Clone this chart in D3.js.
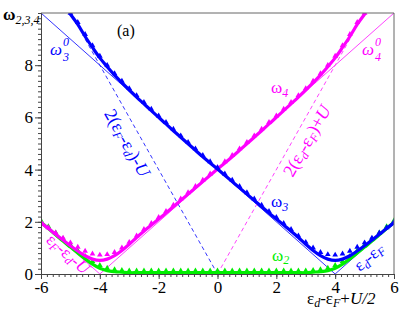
<!DOCTYPE html>
<html>
<head>
<meta charset="utf-8">
<script src="https://d3js.org/d3.v7.min.js"></script>
<style>
body { margin: 0; background: #fff; }
</style>
</head>
<body>
<svg width="409" height="316"></svg>
<script>
// x grid of the computed points
var xs = [-6, -5.75, -5.5, -5.25, -5, -4.75, -4.5, -4.25, -4, -3.75, -3.5, -3.25, -3,
          -2.75, -2.5, -2.25, -2, -1.75, -1.5, -1.25, -1, -0.75, -0.5, -0.25, 0,
          0.25, 0.5, 0.75, 1, 1.25, 1.5, 1.75, 2, 2.25, 2.5, 2.75, 3,
          3.25, 3.5, 3.75, 4, 4.25, 4.5, 4.75, 5, 5.25, 5.5, 5.75, 6];

// omega_3 (blue)
var w3Tri = [null, null, null, null, 10.0, 9.64, 9.18, 8.75, 8.35, 8.0, 7.68, 7.39, 7.11,
             6.84, 6.58, 6.32, 6.06, 5.81, 5.55, 5.3, 5.05, 4.8, 4.55, 4.31, 4.08,
             3.84, 3.6, 3.36, 3.12, 2.88, 2.64, 2.4, 2.17, 1.94, 1.71, 1.46, 1.22,
             1.0, 0.83, 0.75, 0.73, 0.77, 0.88, 1.03, 1.2, 1.38, 1.58, 1.78, 2.0];
var w3Dot = [null, null, null, null, 9.95, 9.56, 9.1, 8.68, 8.28, 7.94, 7.62, 7.33, 7.05,
             6.78, 6.52, 6.26, 6.0, 5.75, 5.49, 5.24, 4.99, 4.74, 4.49, 4.25, 4.02,
             3.78, 3.54, 3.3, 3.06, 2.82, 2.58, 2.34, 2.11, 1.88, 1.64, 1.4, 1.14,
             0.9, 0.7, 0.57, 0.52, 0.57, 0.7, 0.88, 1.08, 1.3, 1.52, 1.74, 1.97];

// omega_4 (magenta)
var w4Tri = [2.0, 1.78, 1.58, 1.38, 1.2, 1.03, 0.88, 0.77, 0.73, 0.75, 0.83, 1.0, 1.22,
             1.46, 1.71, 1.94, 2.17, 2.4, 2.64, 2.88, 3.12, 3.36, 3.6, 3.84, 4.08,
             4.31, 4.55, 4.8, 5.05, 5.3, 5.55, 5.81, 6.06, 6.32, 6.58, 6.84, 7.11,
             7.39, 7.68, 8.0, 8.35, 8.75, 9.18, 9.64, 10.0, null, null, null, null];
var w4Dot = [1.97, 1.74, 1.52, 1.3, 1.08, 0.88, 0.7, 0.57, 0.52, 0.57, 0.7, 0.9, 1.14,
             1.4, 1.64, 1.88, 2.11, 2.34, 2.58, 2.82, 3.06, 3.3, 3.54, 3.78, 4.02,
             4.25, 4.49, 4.74, 4.99, 5.24, 5.49, 5.75, 6.0, 6.26, 6.52, 6.78, 7.05,
             7.33, 7.62, 7.94, 8.28, 8.68, 9.1, 9.56, 9.95, null, null, null, null];

// omega_2 (green)
var w2Tri = [2.05, 1.82, 1.58, 1.35, 1.12, 0.9, 0.68, 0.48, 0.33, 0.23, 0.17, 0.14, 0.12,
             0.12, 0.12, 0.12, 0.12, 0.12, 0.12, 0.12, 0.12, 0.12, 0.12, 0.12, 0.12,
             0.12, 0.12, 0.12, 0.12, 0.12, 0.12, 0.12, 0.12, 0.12, 0.12, 0.12, 0.12,
             0.14, 0.17, 0.23, 0.33, 0.48, 0.68, 0.9, 1.12, 1.35, 1.58, 1.82, 2.05];
var w2Dot = [1.98, 1.74, 1.5, 1.26, 1.03, 0.8, 0.58, 0.38, 0.22, 0.13, 0.09, 0.07, 0.05,
             0.05, 0.05, 0.05, 0.05, 0.05, 0.05, 0.05, 0.05, 0.05, 0.05, 0.05, 0.05,
             0.05, 0.05, 0.05, 0.05, 0.05, 0.05, 0.05, 0.05, 0.05, 0.05, 0.05, 0.05,
             0.07, 0.09, 0.13, 0.22, 0.38, 0.58, 0.8, 1.03, 1.26, 1.5, 1.74, 1.98];

// bare levels and the dashed lines
var w3ZeroX = [-6, 4, 6], w3ZeroY = [10, 0, 2];
var w4ZeroX = [-6, -4, 6], w4ZeroY = [2, 0, 10];
var dashBlueX = [-4.5, 0], dashBlueY = [9, 0];
var dashMagX = [0, 4.5], dashMagY = [0, 9];

var xTicks = [-6, -4, -2, 0, 2, 4, 6];
var yTicks = [0, 2, 4, 6, 8];

var BLUE = "#0000ff", MAG = "#ff00ff", GREEN = "#00ee00";
var FONT = "'Liberation Serif', 'Times New Roman', 'DejaVu Serif', serif";

var svg = d3.select("svg").style("font-family", FONT);
var x = d3.scaleLinear().domain([-6, 6]).range([41, 394]);
var y = d3.scaleLinear().domain([0, 10]).range([274, 13]);

svg.append("clipPath").attr("id", "plot")
  .append("rect").attr("x", 41).attr("y", 13).attr("width", 353).attr("height", 261);

function pairs(xa, ya) {
  return xa.map(function(d, i) { return [d, ya[i]]; });
}

var line = d3.line()
  .defined(function(d) { return d[1] != null; })
  .x(function(d) { return x(d[0]); })
  .y(function(d) { return y(d[1]); });

var g = svg.append("g").attr("clip-path", "url(#plot)");

// thin solid lines
g.append("path").datum(pairs(w4ZeroX, w4ZeroY)).attr("d", line)
  .attr("fill", "none").attr("stroke", "#ff44ff").attr("stroke-width", 1);
g.append("path").datum(pairs(w3ZeroX, w3ZeroY)).attr("d", line)
  .attr("fill", "none").attr("stroke", "#3535ff").attr("stroke-width", 1);
// dashed
g.append("path").datum(pairs(dashBlueX, dashBlueY)).attr("d", line)
  .attr("fill", "none").attr("stroke", "#3535ff").attr("stroke-width", 1)
  .attr("stroke-dasharray", "4,3");
g.append("path").datum(pairs(dashMagX, dashMagY)).attr("d", line)
  .attr("fill", "none").attr("stroke", "#ff44ff").attr("stroke-width", 1)
  .attr("stroke-dasharray", "4,3");

var band = d3.line()
  .defined(function(d) { return d[1] != null; })
  .curve(d3.curveCatmullRom)
  .x(function(d) { return x(d[0]); })
  .y(function(d) { return y(d[1]); });

var tri = d3.symbol().type(d3.symbolTriangle).size(14);

function series(dots, tris, color) {
  g.append("path").datum(pairs(xs, dots)).attr("d", band)
    .attr("fill", "none").attr("stroke", color).attr("stroke-width", 3.2)
    .attr("stroke-linecap", "round");
  g.append("g").selectAll("path")
    .data(pairs(xs, tris).filter(function(d) { return d[1] != null; }))
    .enter().append("path")
      .attr("d", tri)
      .attr("transform", function(d) { return "translate(" + x(d[0]) + "," + y(d[1]) + ")"; })
      .attr("fill", color);
}
series(w2Dot, w2Tri, GREEN);
series(w4Dot, w4Tri, MAG);
series(w3Dot, w3Tri, BLUE);

// frame
svg.append("path").attr("d", "M41,13H394V274").attr("fill", "none")
  .attr("stroke", "#666").attr("stroke-width", 1);

var fmt = function(d) { return d < 0 ? "-" + (-d) : "" + d; };
var xMinor = d3.range(-30, 31).map(function(d) { return d / 5; });
var yMinor = d3.range(0, 51).map(function(d) { return d / 5; });

function styleAxis(sel) {
  sel.attr("font-family", null).attr("font-size", 17);
  sel.selectAll("line").attr("stroke", "#444");
  sel.selectAll("path").attr("stroke", "#444");
  sel.selectAll("text").attr("fill", "#000").style("font-family", FONT);
}

svg.append("g").attr("transform", "translate(0,274)")
  .call(d3.axisBottom(x).tickValues(xMinor).tickSize(3).tickSizeOuter(0).tickFormat(""))
  .call(styleAxis);
svg.append("g").attr("transform", "translate(0,274)")
  .call(d3.axisBottom(x).tickValues(xTicks).tickSize(5).tickSizeOuter(0).tickPadding(2).tickFormat(fmt))
  .call(styleAxis);
svg.append("g").attr("transform", "translate(41,0)")
  .call(d3.axisLeft(y).tickValues(yMinor).tickSize(3).tickSizeOuter(0).tickFormat(""))
  .call(styleAxis);
svg.append("g").attr("transform", "translate(41,0)")
  .call(d3.axisLeft(y).tickValues(yTicks).tickSize(6).tickSizeOuter(0).tickPadding(2).tickFormat(fmt))
  .call(styleAxis);

// labels
function label(xp, yp, color, parts, opts) {
  opts = opts || {};
  var t = svg.append("text").attr("fill", color).attr("font-size", opts.size || 17)
    .style("font-family", FONT);
  if (opts.rotate != null) {
    t.attr("transform", "translate(" + xp + "," + yp + ") rotate(" + opts.rotate + ")")
      .attr("text-anchor", "middle").attr("dy", "0.32em");
  } else {
    t.attr("x", xp).attr("y", yp);
  }
  if (opts.italic) t.attr("font-style", "italic");
  parts.forEach(function(p) {
    var s = t.append("tspan").text(p[0]);
    if (p[1]) s.attr("dy", p[1]);
    if (p[2]) s.attr("font-size", p[2]);
    if (p[3]) s.attr("font-style", p[3]);
    if (p[4] != null) s.attr("x", p[4]);
  });
  return t;
}

// y axis title
label(3, 20, "#000", [["ω", 0, 17], ["2,3,4", 4, 12, "italic"]]).attr("font-weight", "bold")
  .select("tspan:last-child").attr("font-weight", "normal");
label(117, 36, "#000", [["(a)"]], {size: 16});

label(50, 55, BLUE, [["ω"], ["0", -9, 12, null, 63], ["3", 15, 12, null, 63]], {italic: true});
label(362, 55, MAG, [["ω"], ["0", -9, 12, null, 375], ["4", 15, 12, null, 375]], {italic: true});
label(271, 93, MAG, [["ω"], ["4", 4, 12, "italic"]]);
label(271, 207, BLUE, [["ω"], ["3", 4, 12, "italic"]]);
label(272, 261, GREEN, [["ω"], ["2", 3, 12, "italic"]]);

// rotated labels
label(127, 143, BLUE, [["2(ε"], ["F", 3, 12, "italic"], ["-ε", -3], ["d", 3, 12, "italic"], [")-", -3], ["U", 0, null, "italic"]],
  {rotate: 60.5, size: 18});
label(307, 141, MAG, [["2(ε"], ["d", 3, 12, "italic"], ["-ε", -3], ["F", 3, 12, "italic"], [")+", -3], ["U", 0, null, "italic"]],
  {rotate: -60.5, size: 18});
label(68, 254, MAG, [["ε"], ["F", 3, 12, "italic"], ["-ε", -3], ["d", 3, 12, "italic"], ["-", -3], ["U", 0, null, "italic"]],
  {rotate: 41.4, size: 17});
label(369, 257, BLUE, [["ε"], ["d", 3, 12, "italic"], ["-ε", -3], ["F", 3, 12, "italic"]],
  {rotate: -41.4, size: 17});

// x axis title
label(307, 304, "#000", [["ε"], ["d", 3, 12, "italic"], ["-ε", -3], ["F", 3, 12, "italic"], ["+", -3], ["U/2", 0, null, "italic"]],
  {size: 17});
</script>
</body>
</html>
